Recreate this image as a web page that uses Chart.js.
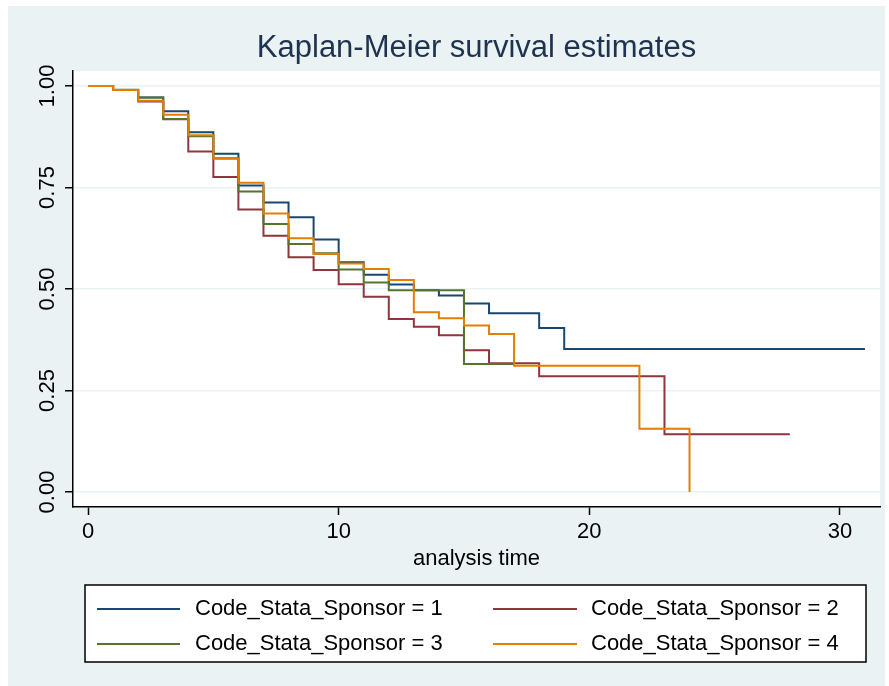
<!DOCTYPE html>
<html>
<head>
<meta charset="utf-8">
<script src="https://cdn.jsdelivr.net/npm/chart.js@4/dist/chart.umd.min.js"></script>
<style>
  body { margin: 0; background: #fff; }
  canvas { display: block; }
</style>
</head>
<body>
<canvas id="km" width="889" height="686"></canvas>
<script>
// Kaplan-Meier step estimates per sponsor code (time, survival)
var t1 = [0,1,2,3,4,5,6,7,8,9,10,11,12,13,14,15,16,18,19,31];
var s1 = [1.000,0.990,0.972,0.938,0.886,0.833,0.755,0.713,0.677,0.622,0.566,0.535,0.511,0.497,0.484,0.464,0.440,0.404,0.352,0.352];

var t2 = [0,1,2,3,4,5,6,7,8,9,10,11,12,13,14,15,16,18,23,28];
var s2 = [1.000,0.990,0.962,0.918,0.839,0.776,0.696,0.631,0.578,0.547,0.512,0.481,0.426,0.407,0.386,0.349,0.317,0.285,0.142,0.142];

var t3 = [0,1,2,3,4,5,6,7,8,9,10,11,12,15,17];
var s3 = [1.000,0.991,0.972,0.919,0.876,0.822,0.740,0.660,0.611,0.588,0.548,0.516,0.497,0.315,0.315];

var t4 = [0,1,2,3,4,5,6,7,8,9,10,11,12,13,14,15,16,17,22,24];
var s4 = [1.000,0.990,0.964,0.929,0.879,0.821,0.762,0.686,0.625,0.586,0.563,0.549,0.522,0.443,0.428,0.410,0.389,0.311,0.156,0.000];

var legendLabels = ["Code_Stata_Sponsor = 1","Code_Stata_Sponsor = 2","Code_Stata_Sponsor = 3","Code_Stata_Sponsor = 4"];
var colors = ["#1a476f","#90353b","#55752f","#e37e00"];
var xTicks = [0,10,20,30];
var yTicks = [0,0.25,0.5,0.75,1];
var yTickLabels = ["0.00","0.25","0.50","0.75","1.00"];

var FONT = "'Liberation Sans', Arial, sans-serif";

function pts(t, s){
  var out = [];
  for (var i = 0; i < t.length; i++) out.push({x: t[i], y: s[i]});
  return out;
}

var series = [[t1,s1],[t2,s2],[t3,s3],[t4,s4]];
var datasets = [];
for (var i = 0; i < series.length; i++) {
  datasets.push({
    label: legendLabels[i],
    data: pts(series[i][0], series[i][1]),
    borderColor: colors[i],
    borderWidth: 2,
    pointRadius: 0,
    stepped: 'before',
    fill: false,
    order: 4 - i
  });
}

var stataPlugin = {
  id: 'stata',
  beforeDraw: function(chart){
    var ctx = chart.ctx, a = chart.chartArea;
    ctx.save();
    ctx.fillStyle = '#ffffff';
    ctx.fillRect(0, 0, chart.width, chart.height);
    ctx.fillStyle = '#eaf2f3';
    ctx.fillRect(8, 6, 877, 680);
    ctx.fillStyle = '#ffffff';
    ctx.fillRect(a.left, a.top, a.right - a.left, a.bottom - a.top);
    ctx.restore();
  },
  afterDraw: function(chart){
    var ctx = chart.ctx, a = chart.chartArea;
    var ys = chart.scales.y;
    ctx.save();
    // title
    ctx.fillStyle = '#1e3350';
    ctx.font = '31px ' + FONT;
    ctx.textAlign = 'center';
    ctx.textBaseline = 'middle';
    ctx.fillText('Kaplan-Meier survival estimates', (a.left + a.right) / 2, 48);

    // y tick labels, rotated
    ctx.fillStyle = '#000';
    ctx.font = '22px ' + FONT;
    for (var i = 0; i < yTicks.length; i++) {
      var py = ys.getPixelForValue(yTicks[i]);
      ctx.save();
      ctx.translate(48, py);
      ctx.rotate(-Math.PI / 2);
      ctx.fillText(yTickLabels[i], 0, 0);
      ctx.restore();
    }

    // x axis title
    ctx.fillText('analysis time', (a.left + a.right) / 2, 559);

    // legend
    ctx.fillStyle = '#fff';
    ctx.fillRect(85, 585, 781, 77);
    ctx.strokeStyle = '#000';
    ctx.lineWidth = 1.5;
    ctx.strokeRect(85, 585, 781, 77);
    var cols = [[97,180,195],[493,577,591]];
    var rows = [609, 644];
    ctx.textAlign = 'left';
    for (var k = 0; k < legendLabels.length; k++) {
      var c = cols[k % 2], r = rows[Math.floor(k / 2)];
      ctx.strokeStyle = colors[k];
      ctx.lineWidth = 2;
      ctx.beginPath();
      ctx.moveTo(c[0], r);
      ctx.lineTo(c[1], r);
      ctx.stroke();
      ctx.fillStyle = '#000';
      ctx.fillText(legendLabels[k], c[2], r);
    }
    ctx.restore();
  }
};

new Chart(document.getElementById('km'), {
  type: 'line',
  data: { datasets: datasets },
  options: {
    responsive: false,
    animation: false,
    layout: { padding: { left: 0, top: 71, right: 9, bottom: 119 } },
    plugins: { legend: { display: false }, title: { display: false }, tooltip: { enabled: false } },
    scales: {
      x: {
        type: 'linear',
        min: -0.6,
        max: 31.6,
        afterBuildTicks: function(s){ s.ticks = xTicks.map(function(v){ return {value: v}; }); },
        afterFit: function(s){ s.height = 60; s.paddingLeft = 0; s.paddingRight = 0; },
        grid: { drawOnChartArea: false, tickLength: 8, tickColor: '#000', tickWidth: 1.5 },
        border: { display: true, color: '#000', width: 1.5 },
        ticks: { color: '#000', font: { family: FONT, size: 22 }, padding: 4, maxRotation: 0 }
      },
      y: {
        type: 'linear',
        min: -0.037,
        max: 1.037,
        afterBuildTicks: function(s){ s.ticks = yTicks.map(function(v){ return {value: v}; }); },
        afterFit: function(s){ s.width = 73; s.paddingTop = 0; s.paddingBottom = 0; },
        grid: { color: '#eaf2f3', lineWidth: 1.5, tickLength: 8, tickColor: '#000', tickWidth: 1.5 },
        border: { display: true, color: '#000', width: 1.5 },
        ticks: { display: false }
      }
    }
  },
  plugins: [stataPlugin]
});
</script>
</body>
</html>
